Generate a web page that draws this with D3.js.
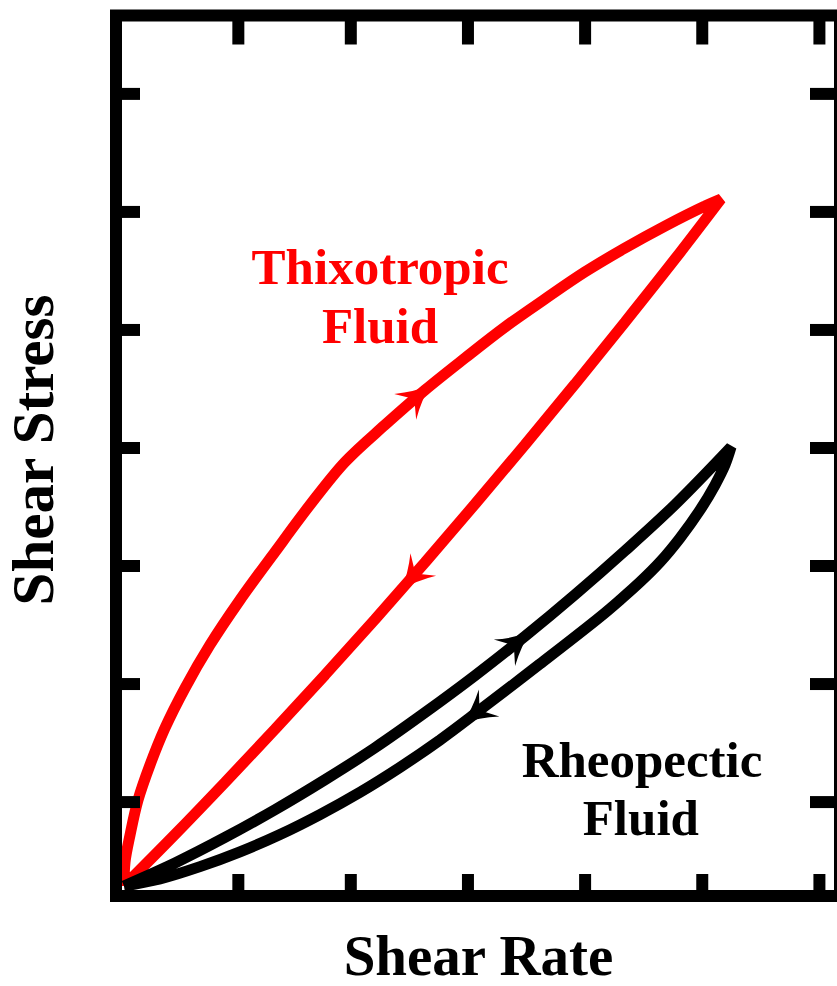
<!DOCTYPE html>
<html>
<head>
<meta charset="utf-8">
<script src="https://d3js.org/d3.v7.min.js"></script>
<style>
  body { margin: 0; background: #fff; }
  text { font-family: "Liberation Serif", "Times New Roman", serif; font-weight: bold; }
</style>
</head>
<body>
<script>
// tick positions (arbitrary units, axes have no labels)
var xTicks = [1.04, 2, 3, 4, 5, 6];
var yTicks = [0.8, 1.8, 2.8, 3.8, 4.8, 5.8, 6.8];

// thixotropic loop: up curve then down curve
var thixoUp = [[0.068,0.085],[0.077,0.288],[0.120,0.517],[0.188,0.813],[0.290,1.110],[0.418,1.423],
  [0.589,1.762],[0.802,2.127],[1.058,2.508],[1.357,2.915],[1.656,3.313],[1.955,3.677],[2.296,3.991],
  [2.638,4.287],[2.979,4.558],[3.321,4.821],[3.662,5.058],[4.003,5.287],[4.345,5.490],[4.686,5.676],
  [5.028,5.846],[5.164,5.905]];
var thixoDown = [[5.164,5.905],[4.772,5.397],[4.345,4.862],[3.918,4.337],[3.491,3.823],[3.064,3.320],
  [2.638,2.826],[2.211,2.344],[1.784,1.873],[1.357,1.412],[0.930,0.962],[0.504,0.522],[0.068,0.085]];

// rheopectic loop
var rheoUp = [[0.068,0.085],[0.504,0.280],[0.930,0.496],[1.357,0.731],[1.784,0.985],[2.211,1.256],
  [2.638,1.554],[3.064,1.867],[3.491,2.200],[3.918,2.553],[4.345,2.925],[4.772,3.316],[5.250,3.804]];
var rheoDown = [[5.250,3.804],[5.198,3.652],[5.113,3.482],[4.985,3.270],[4.814,3.033],[4.644,2.830],
  [4.473,2.660],[4.302,2.508],[4.131,2.364],[3.619,1.966],[3.107,1.576],[2.766,1.322],[2.424,1.090],
  [2.083,0.879],[1.741,0.690],[1.400,0.521],[1.058,0.374],[0.717,0.249],[0.376,0.145],[0.068,0.085]];

// where the direction arrows sit (x value along each branch)
var thixoArrows = [{branch: "up", x: 2.578}, {branch: "down", x: 2.527}];
var rheoArrows = [{branch: "up", x: 3.43}, {branch: "down", x: 3.07}];

var labels = [
  {text: "Thixotropic", x: 2.254, y: 5.185, color: "#ff0000"},
  {text: "Fluid", x: 2.254, y: 4.685, color: "#ff0000"},
  {text: "Rheopectic", x: 4.49, y: 1.005, color: "#000"},
  {text: "Fluid", x: 4.48, y: 0.517, color: "#000"}
];

var width = 837, height = 986;
var boxLeft = 116, boxRight = 840, boxTop = 15.5, boxBottom = 896;

var x = d3.scaleLinear().domain([0, 6.18]).range([boxLeft, boxRight]);
var y = d3.scaleLinear().domain([0, 7.46]).range([boxBottom, boxTop]);

var svg = d3.select("body").append("svg")
  .attr("width", width)
  .attr("height", height);

var line = d3.line()
  .x(function(d) { return x(d[0]); })
  .y(function(d) { return y(d[1]); })
  .curve(d3.curveCatmullRom.alpha(0.5));

function drawLoop(up, down, color, arrows) {
  var dUp = line(up), dDown = line(down);
  // join both branches into one path so the tip gets a corner
  var joined = dUp + dDown.slice(dDown.indexOf("C"));
  svg.append("path")
    .attr("d", joined)
    .attr("fill", "none")
    .attr("stroke", color)
    .attr("stroke-width", 11)
    .attr("stroke-linejoin", "bevel");

  var helpers = {
    up: svg.append("path").attr("d", dUp).attr("fill", "none").attr("stroke", "none"),
    down: svg.append("path").attr("d", dDown).attr("fill", "none").attr("stroke", "none")
  };

  arrows.forEach(function(a) {
    var node = helpers[a.branch].node();
    var len = node.getTotalLength();
    var tx = x(a.x), best = 0, bd = Infinity;
    for (var s = 0; s <= len; s += 0.5) {
      var p = node.getPointAtLength(s);
      if (Math.abs(p.x - tx) < bd) { bd = Math.abs(p.x - tx); best = s; }
    }
    var p0 = node.getPointAtLength(Math.max(0, best - 4));
    var p1 = node.getPointAtLength(Math.min(len, best + 4));
    var pc = node.getPointAtLength(best);
    var ang = Math.atan2(p1.y - p0.y, p1.x - p0.x) * 180 / Math.PI;
    svg.append("path")
      .attr("d", "M17,0 Q0,-5 -17,-17 L-5,0 L-17,17 Q0,5 17,0 Z")
      .attr("transform", "translate(" + pc.x + "," + pc.y + ") rotate(" + ang + ")")
      .attr("fill", color);
  });

  helpers.up.remove();
  helpers.down.remove();
}

drawLoop(thixoUp, thixoDown, "#ff0000", thixoArrows);
drawLoop(rheoUp, rheoDown, "#000", rheoArrows);

// ticks pointing inwards on all four sides
function styleTicks(g) {
  g.select(".domain").remove();
  g.selectAll("text").remove();
  g.selectAll("line").attr("stroke", "#000").attr("stroke-width", 12);
}

svg.append("g").attr("transform", "translate(0," + boxBottom + ")")
  .call(d3.axisBottom(x).tickValues(xTicks).tickSize(-22)).call(styleTicks);
svg.append("g").attr("transform", "translate(0," + boxTop + ")")
  .call(d3.axisTop(x).tickValues(xTicks).tickSize(-29)).call(styleTicks);
svg.append("g").attr("transform", "translate(" + boxLeft + ",0)")
  .call(d3.axisLeft(y).tickValues(yTicks).tickSize(-24)).call(styleTicks);
svg.append("g").attr("transform", "translate(" + boxRight + ",0)")
  .call(d3.axisRight(y).tickValues(yTicks).tickSize(-30)).call(styleTicks);

// frame
svg.append("rect")
  .attr("x", boxLeft).attr("y", boxTop)
  .attr("width", boxRight - boxLeft).attr("height", boxBottom - boxTop)
  .attr("fill", "none")
  .attr("stroke", "#000")
  .attr("stroke-width", 12);

// annotations
svg.selectAll(".lbl").data(labels).enter().append("text")
  .attr("class", "lbl")
  .attr("x", function(d) { return x(d.x); })
  .attr("y", function(d) { return y(d.y); })
  .attr("text-anchor", "middle")
  .attr("font-size", 51)
  .attr("fill", function(d) { return d.color; })
  .text(function(d) { return d.text; });

// axis titles
svg.append("text")
  .attr("x", 478.5).attr("y", 975)
  .attr("text-anchor", "middle")
  .attr("font-size", 57)
  .text("Shear Rate");

svg.append("text")
  .attr("transform", "translate(53,450) rotate(-90)")
  .attr("text-anchor", "middle")
  .attr("font-size", 59)
  .text("Shear Stress");
</script>
</body>
</html>
